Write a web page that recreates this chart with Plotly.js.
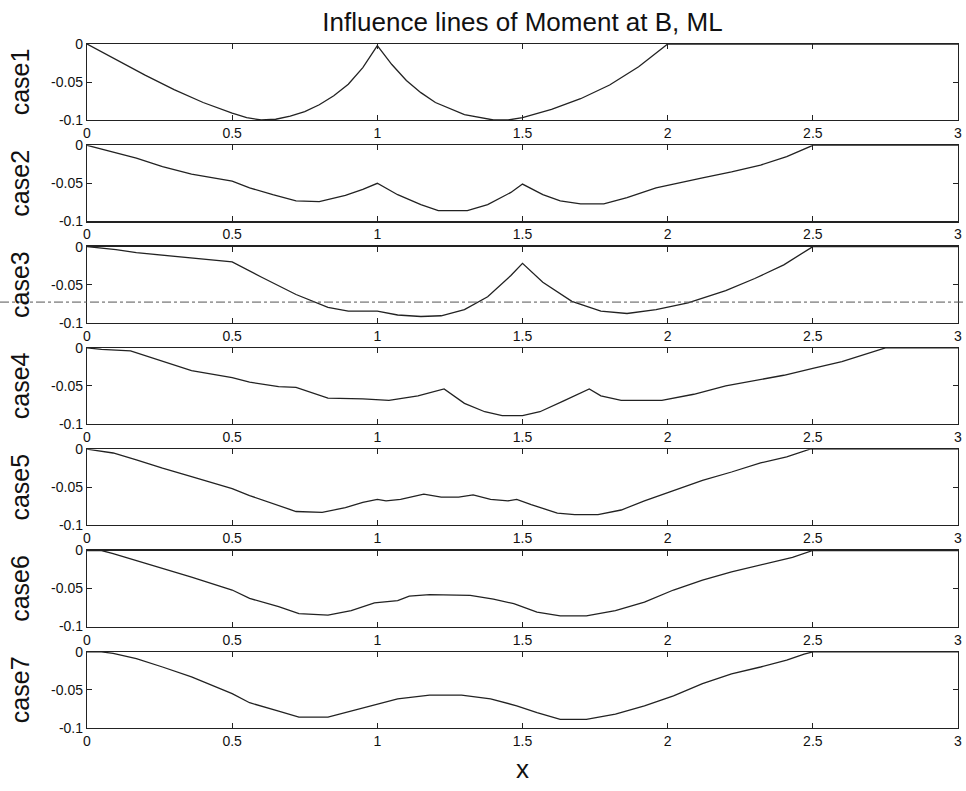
<!DOCTYPE html>
<html>
<head>
<meta charset="utf-8">
<script src="https://cdn.plot.ly/plotly-3.0.1.min.js"></script>
<style>html,body{margin:0;padding:0;background:#fff;}#chart{width:966px;height:791px;}</style>
</head>
<body>
<div id="chart"></div>
<script>
// ---- data ----
const caseNames = ['case1','case2','case3','case4','case5','case6','case7'];
const xTickVals = [0, 0.5, 1, 1.5, 2, 2.5, 3];
const xTickText = ['0', '0.5', '1', '1.5', '2', '2.5', '3'];
const yTickVals = [-0.1, -0.05, 0];
const yTickText = ['-0.1', '-0.05', '0'];

const xCase1 = [0,0.1,0.2,0.3,0.4,0.5,0.55,0.6,0.65,0.7,0.75,0.8,0.85,0.9,0.95,1.0,1.05,1.1,1.15,1.2,1.3,1.4,1.45,1.5,1.6,1.7,1.8,1.9,2.0,3.0];
const yCase1 = [0,-0.021,-0.041,-0.06,-0.077,-0.091,-0.097,-0.1,-0.099,-0.095,-0.089,-0.08,-0.068,-0.053,-0.031,-0.002,-0.027,-0.048,-0.064,-0.077,-0.093,-0.1,-0.1,-0.097,-0.086,-0.072,-0.054,-0.03,0,0];

const xCase2 = [0,0.17,0.26,0.36,0.5,0.56,0.64,0.72,0.8,0.89,0.95,1.0,1.07,1.15,1.21,1.31,1.38,1.46,1.5,1.57,1.63,1.7,1.78,1.86,1.96,2.04,2.12,2.22,2.32,2.41,2.5,3.0];
const yCase2 = [0,-0.017,-0.028,-0.038,-0.047,-0.056,-0.065,-0.073,-0.074,-0.066,-0.058,-0.05,-0.065,-0.078,-0.086,-0.086,-0.078,-0.062,-0.051,-0.065,-0.073,-0.077,-0.077,-0.069,-0.056,-0.05,-0.043,-0.035,-0.026,-0.015,0,0];

const xCase3 = [0,0.1,0.17,0.36,0.5,0.6,0.72,0.83,0.9,1.0,1.07,1.15,1.22,1.3,1.38,1.46,1.5,1.57,1.67,1.77,1.86,1.96,2.07,2.2,2.3,2.4,2.5,3.0];
const yCase3 = [0,-0.004,-0.008,-0.015,-0.02,-0.04,-0.063,-0.08,-0.085,-0.085,-0.09,-0.092,-0.091,-0.083,-0.066,-0.038,-0.022,-0.047,-0.072,-0.085,-0.088,-0.083,-0.074,-0.058,-0.042,-0.024,0,0];

const xCase4 = [0,0.05,0.15,0.26,0.36,0.5,0.56,0.66,0.72,0.83,0.95,1.04,1.14,1.23,1.3,1.37,1.43,1.5,1.56,1.64,1.73,1.77,1.84,1.98,2.09,2.2,2.3,2.4,2.5,2.6,2.75,3.0];
const yCase4 = [0,-0.002,-0.004,-0.018,-0.03,-0.039,-0.045,-0.051,-0.052,-0.066,-0.067,-0.069,-0.063,-0.054,-0.073,-0.084,-0.089,-0.089,-0.084,-0.07,-0.054,-0.063,-0.069,-0.069,-0.061,-0.05,-0.043,-0.036,-0.027,-0.018,0,0];

const xCase5 = [0,0.09,0.17,0.26,0.36,0.5,0.56,0.66,0.72,0.81,0.89,0.95,1.0,1.03,1.08,1.16,1.22,1.28,1.33,1.39,1.45,1.48,1.53,1.62,1.68,1.76,1.84,1.92,2.02,2.12,2.22,2.32,2.41,2.49,3.0];
const yCase5 = [0,-0.005,-0.014,-0.025,-0.036,-0.052,-0.061,-0.074,-0.082,-0.083,-0.077,-0.07,-0.066,-0.068,-0.066,-0.059,-0.063,-0.063,-0.06,-0.066,-0.068,-0.066,-0.073,-0.084,-0.086,-0.086,-0.08,-0.068,-0.055,-0.041,-0.03,-0.018,-0.01,0,0];

const xCase6 = [0,0.05,0.09,0.17,0.26,0.36,0.5,0.56,0.66,0.73,0.83,0.91,0.99,1.07,1.11,1.18,1.32,1.4,1.47,1.55,1.63,1.72,1.82,1.92,2.02,2.12,2.22,2.32,2.43,2.5,3.0];
const yCase6 = [0,0,-0.004,-0.013,-0.024,-0.035,-0.052,-0.063,-0.074,-0.083,-0.085,-0.079,-0.069,-0.066,-0.06,-0.058,-0.059,-0.064,-0.07,-0.081,-0.086,-0.086,-0.079,-0.068,-0.052,-0.039,-0.028,-0.019,-0.009,0,0];

const xCase7 = [0,0.05,0.09,0.17,0.26,0.36,0.5,0.56,0.66,0.73,0.83,0.91,0.99,1.07,1.18,1.29,1.39,1.48,1.55,1.63,1.72,1.82,1.92,2.02,2.12,2.22,2.32,2.41,2.47,2.5,3.0];
const yCase7 = [0,0,-0.002,-0.009,-0.02,-0.033,-0.055,-0.067,-0.078,-0.086,-0.086,-0.078,-0.069,-0.062,-0.057,-0.057,-0.062,-0.071,-0.08,-0.089,-0.089,-0.082,-0.071,-0.058,-0.042,-0.029,-0.02,-0.011,-0.003,0,0];

const xData = [xCase1, xCase2, xCase3, xCase4, xCase5, xCase6, xCase7];
const yData = [yCase1, yCase2, yCase3, yCase4, yCase5, yCase6, yCase7];

// ---- layout ----
const W = 966, H = 791;
const M = {l: 87, r: 8, t: 44, b: 63};
const plotH = H - M.t - M.b;
const step = 101.3, h = 76;
const FONT = 'Liberation Sans, Arial, sans-serif';
const lineColor = '#222';

const traces = [];
const layout = {
  width: W, height: H,
  margin: M,
  paper_bgcolor: '#fff', plot_bgcolor: '#fff',
  showlegend: false,
  font: {family: FONT, color: '#111', size: 14},
  title: {text: 'Influence lines of Moment at B, ML', font: {family: FONT, size: 26, color: '#111'},
          x: 0.5, xref: 'paper', y: 1 - 22 / H, yref: 'container', yanchor: 'middle'},
  shapes: [],
};

const domains = [];
for (let i = 0; i < 7; i++) {
  const topPx = i * step, botPx = topPx + h;
  const d = [Math.max(0, 1 - botPx / plotH), 1 - topPx / plotH];
  domains.push(d);
  const sfx = i === 0 ? '' : String(i + 1);
  traces.push({
    type: 'scatter', mode: 'lines', name: caseNames[i],
    x: xData[i], y: yData[i],
    xaxis: 'x' + sfx, yaxis: 'y' + sfx,
    line: {color: lineColor, width: 1.3},
    hoverinfo: 'skip'
  });
  layout['xaxis' + sfx] = {
    domain: [0, 1], anchor: 'y' + sfx, range: [0, 3],
    tickvals: xTickVals, ticktext: xTickText,
    ticks: 'inside', ticklen: 5, tickcolor: '#222',
    showline: true, linecolor: '#222', linewidth: 1.2, mirror: 'ticks',
    showgrid: false, zeroline: false,
    tickfont: {family: FONT, size: 14, color: '#111'},
    title: i === 6 ? {text: 'x', font: {family: FONT, size: 26, color: '#111'}, standoff: 12} : {text: ''}
  };
  layout['yaxis' + sfx] = {
    domain: d, anchor: 'x' + sfx, range: [-0.1, 0],
    tickvals: yTickVals, ticktext: yTickText,
    ticks: 'inside', ticklen: 5, tickcolor: '#222',
    showline: true, linecolor: '#222', linewidth: 1.2, mirror: 'ticks',
    showgrid: false, zeroline: false,
    tickfont: {family: FONT, size: 14, color: '#111'},
    title: {text: caseNames[i], font: {family: FONT, size: 25, color: '#111'}, standoff: 14}
  };
}

// dash-dot horizontal stray line crossing the case3 panel
const d3 = domains[2];
const yLine = d3[0] + (1 - 0.073 / 0.1) * (d3[1] - d3[0]);
layout.shapes.push({
  type: 'line', xref: 'paper', yref: 'paper',
  x0: -M.l / (W - M.l - M.r), x1: 1 + M.r / (W - M.l - M.r), y0: yLine, y1: yLine,
  line: {color: '#555', width: 1, dash: 'dashdot'}, layer: 'above'
});

Plotly.newPlot('chart', traces, layout, {displayModeBar: false, staticPlot: true});
</script>
</body>
</html>
